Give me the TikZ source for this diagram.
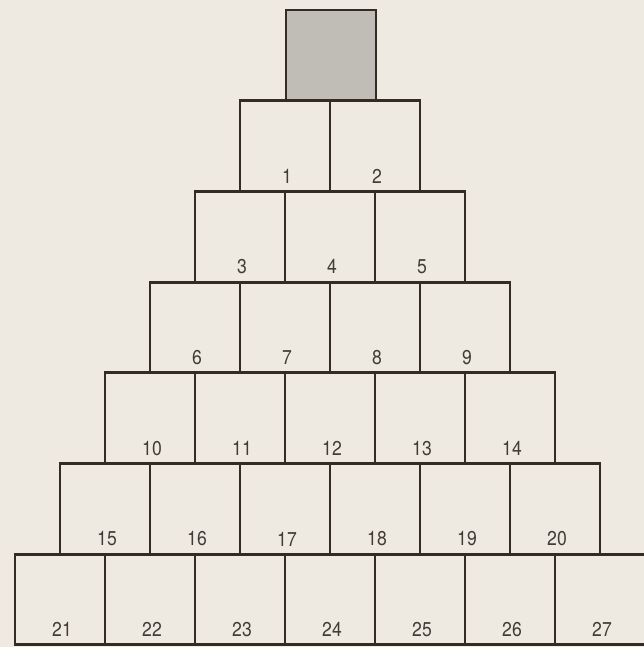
\documentclass[tikz,border=0pt]{standalone}
\usepackage{fontspec}
\setmainfont{TeX Gyre Heros}[FakeStretch=0.88]
\usepackage{tikz}
\usetikzlibrary{calc}
\definecolor{paper}{RGB}{238,233,225}
\definecolor{ink}{RGB}{52,44,36}
\definecolor{shade}{RGB}{192,188,182}
\definecolor{numink}{RGB}{66,60,54}
\tikzstyle{cell} = [rectangle, draw=ink, line width=2.9pt, inner sep=0pt, outer sep=0pt, minimum width=90pt, minimum height=90.7pt]
\tikzstyle{num} = [anchor=south, inner sep=0pt, text=numink, font=\fontsize{20}{20}\selectfont]

\begin{document}
\begin{tikzpicture}[x=1pt,y=-1pt]
		\useasboundingbox (0,0) rectangle (644,647);
		\fill[paper] (0,0) rectangle (644,647);
		\clip (0,0) rectangle (644,647);
	%	top block, shaded
		\node[cell, fill=shade] (top) at (331,55.35) {};
	%	rows 1 to 6, numbered left to right
		\foreach \r in {1,...,6}
		\foreach \c in {0,...,\r} {
			\pgfmathtruncatemacro{\n}{\r*(\r+1)/2+\c}
			\node[cell] (b\n) at ({330+(2*\c-\r)*45},{10+(\r+0.5)*90.7}) {};
			\node[num] (l\n) at ($(b\n.south)+(2,-8)$) {\n};
		}
	\end{tikzpicture}
\end{document}
